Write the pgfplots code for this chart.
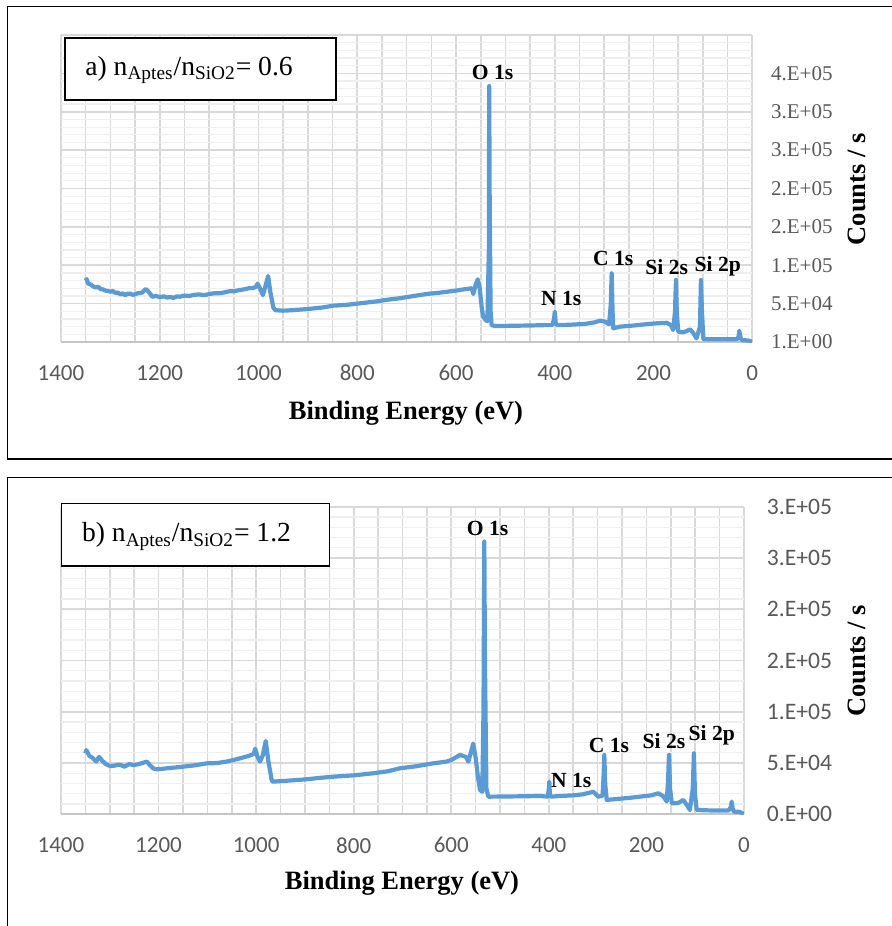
\documentclass[border=0pt]{standalone}
\usepackage{fontspec}
\setmainfont{Liberation Serif}
\newfontfamily\calibri{Carlito}
\usepackage{pgfplots}
\pgfplotsset{compat=1.18}
\usepackage{pgfplotstable}
\definecolor{xpsblue}{HTML}{5B9BD5}
\definecolor{gridgray}{HTML}{D9D9D9}
\definecolor{gridlight}{HTML}{EFEFEF}
\definecolor{labelgray}{HTML}{595959}
\definecolor{axisgray}{HTML}{C6C6C6}
\tikzset{peak/.style={font=\bfseries\fontsize{10.8}{12}\selectfont, inner sep=0pt}}

\pgfplotstableread{
be counts
1350 80000
1348 82000
1345 76000
1340 75000
1335 72500
1330 71000
1325 72000
1320 69000
1315 68500
1310 67000
1305 66500
1300 65500
1295 66500
1290 64000
1285 64500
1280 62000
1275 63500
1270 61000
1265 63000
1260 63000
1255 61500
1250 62000
1245 63500
1240 64000
1235 64500
1232 67000
1228 69000
1222 65000
1215 59000
1208 60000
1200 58500
1192 59500
1185 58000
1178 58500
1172 57500
1165 59500
1160 59000
1150 60500
1140 60000
1130 61500
1120 62000
1110 61000
1100 62500
1090 63500
1080 63500
1070 64500
1060 66000
1050 66000
1040 67500
1030 68500
1020 70000
1010 70500
1005 72000
1002 76000
997 70000
991 61000
985 75000
980.5 86000
976 65000
970 45000
966 41500
950 40800
930 41500
900 43000
870 45000
849 47300
820 48500
800 50000
780 51500
760 53000
740 55000
714 57000
690 59500
660 62500
630 64500
600 67000
580 69000
568 70000
565 62500
560 75000
556 81700
552 70000
548 45000
545 33000
540 28700
536.5 27000
533.5 120000
532.8 333600
532 200000
530 40000
528 22000
521 20800
500 21000
450 21500
420 22000
405 22000
401.5 30000
400 39500
398 24000
395 22000
370 22500
340 23500
320 25500
308 27800
298 26500
290 23000
286.5 50000
284.8 89500
283 40000
281.5 17800
268 20000
240 21500
210 23500
193 24400
173 25000
165 22000
160 15600
156.5 40000
154.6 80800
153 40000
150 13400
140 12600
132 14500
126 16500
120 12000
113 4800
106 20000
104 80800
102 40000
99 3500
60 3500
31.6 3500
28 6000
26.3 14700
24 6000
21.5 2600
10 2000
5 1500
0 0
}\dataA

\pgfplotstableread{
be counts
1350 59500
1348 62700
1342 57000
1335 55000
1328 51400
1322 56000
1315 52000
1308 49000
1299 47000
1290 47500
1280 48500
1270 46500
1260 49000
1251 48000
1240 49000
1230 50500
1224 51400
1218 48000
1210 44500
1203 43900
1190 44500
1170 45500
1149 46500
1130 47500
1110 49000
1101 49700
1080 50000
1060 51500
1046 53000
1030 55000
1015 57000
1005 58800
1002 64000
997 56000
992 51400
986 58000
980.4 71500
975 52000
968 33000
966 31900
944 32500
900 34000
870 35500
842 36700
800 38000
760 40000
730 42000
705 44900
670 47000
640 49500
610 51400
600 53000
582 57900
570 56000
565 51400
560 60000
555 69000
550 55000
545 35000
541 23700
536.4 22000
534 100000
532.3 266000
531 150000
528 25000
524 17200
500 17300
450 17600
418 17900
402 17200
400 25000
399 31900
398 20000
396 17200
380 17800
350 18500
330 19500
309 22000
298.6 17200
290 18000
288 35000
286.3 57900
284.5 30000
281.4 14000
260 15000
240 15800
213 17200
190 18500
175.6 20500
165 17500
158.5 12400
156 30000
153.7 57900
151.5 25000
148 10700
135 11000
124.4 14000
117 9000
111 4200
105 25000
102.7 59500
100.5 20000
97 4200
70 3800
40 3800
32 3600
27 7000
25.2 12400
23 5000
20.5 2600
10 2500
5 1500
0 300
}\dataB

\pgfplotsset{xpsaxis/.style={
  scale only axis, anchor=south west,
  xmin=0, xmax=1400, x dir=reverse, ymin=0,
  scaled y ticks=false, scaled x ticks=false,
  axis x line*=bottom, axis y line*=right,
  x axis line style={draw=axisgray, line width=1pt},
  y axis line style={draw=none},
  xtick={0,200,...,1400},
  xticklabels={0,200,400,600,800,1000,1200,1400},
  minor x tick num=3, minor y tick num=4,
  major tick length=0pt, minor tick length=0pt,
  grid=both,
  major grid style={draw=gridgray, line width=0.8pt},
  minor x grid style={draw=gridgray, line width=0.8pt},
  minor y grid style={draw=gridlight, line width=0.6pt},
  xticklabel style={font=\calibri\fontsize{11.5}{13}\selectfont, text=labelgray, anchor=center, yshift=-15.5pt},
  yticklabel style={text=labelgray, anchor=west, inner sep=0pt},
}}

\begin{document}
\begin{tikzpicture}
\useasboundingbox (0pt,0pt) rectangle (446pt,-463pt);
\begin{scope}
\clip (0pt,0pt) rectangle (446pt,-463pt);
\draw[line width=0.65pt] (3.65pt,-3.35pt) rectangle (452pt,-229.5pt);
\draw[line width=0.65pt] (3.65pt,-238.65pt) rectangle (452pt,-470pt);

% ---- panel a
\begin{axis}[xpsaxis,
  at={(30.5pt,-171pt)}, width=345.65pt, height=153.5pt,
  ymax=400000,
  ytick={0,50000,...,400000},
  yticklabels={1.E+00,5.E+04,1.E+05,2.E+05,2.E+05,3.E+05,3.E+05,4.E+05,{}},
  yticklabel style={font=\fontsize{10.5}{12}\selectfont, xshift=9.2pt},
]
\addplot[color=xpsblue, line width=2.1pt, line join=round, no marks] table[x=be,y=counts] {\dataA};
\node[peak] at (axis cs:526,351000) {O 1s};
\node[peak] at (axis cs:387,57000) {N 1s};
\node[peak] at (axis cs:281.6,109000) {C 1s};
\node[peak] at (axis cs:173.4,98000) {Si 2s};
\node[peak] at (axis cs:70,98000) {Si 2p};
\end{axis}

% ---- panel b
\begin{axis}[xpsaxis,
  at={(30.5pt,-407.15pt)}, width=341.5pt, height=153.8pt,
  ymax=300000,
  ytick={0,50000,...,300000},
  yticklabels={0.E+00,5.E+04,1.E+05,2.E+05,2.E+05,3.E+05,3.E+05},
  yticklabel style={font=\calibri\fontsize{11.8}{13}\selectfont, xshift=11.3pt},
]
\addplot[color=xpsblue, line width=2.1pt, line join=round, no marks] table[x=be,y=counts] {\dataB};
\node[peak] at (axis cs:525.7,279000) {O 1s};
\node[peak] at (axis cs:354,32800) {N 1s};
\node[peak] at (axis cs:277,66900) {C 1s};
\node[peak] at (axis cs:164,71800) {Si 2s};
\node[peak] at (axis cs:66,77300) {Si 2p};
\end{axis}

% axis titles
\node[font=\bfseries\fontsize{13.25}{15}\selectfont] at (203pt,-206.5pt) {Binding Energy (eV)};
\node[font=\bfseries\fontsize{13.25}{15}\selectfont] at (201pt,-441.65pt) {Binding Energy (eV)};
\node[font=\bfseries\fontsize{13.25}{15}\selectfont, rotate=90] at (428.35pt,-94.6pt) {Counts / s};
\node[font=\bfseries\fontsize{13.25}{15}\selectfont, rotate=90] at (428.35pt,-330.4pt) {Counts / s};

% inset boxes
\draw[line width=0.6pt, fill=white] (32.5pt,-19pt) rectangle (168pt,-50pt);
\node[anchor=base west, inner sep=0pt, font=\fontsize{13.8}{15}\selectfont] at (42.5pt,-37.5pt) {a) n\textsubscript{Aptes}/n\textsubscript{SiO2}= 0.6};
\draw[line width=0.6pt, fill=white] (30.85pt,-251.65pt) rectangle (164.65pt,-283pt);
\node[anchor=base west, inner sep=0pt, font=\fontsize{13.8}{15}\selectfont] at (40.85pt,-270.85pt) {b) n\textsubscript{Aptes}/n\textsubscript{SiO2}= 1.2};
\end{scope}
\end{tikzpicture}
\end{document}
